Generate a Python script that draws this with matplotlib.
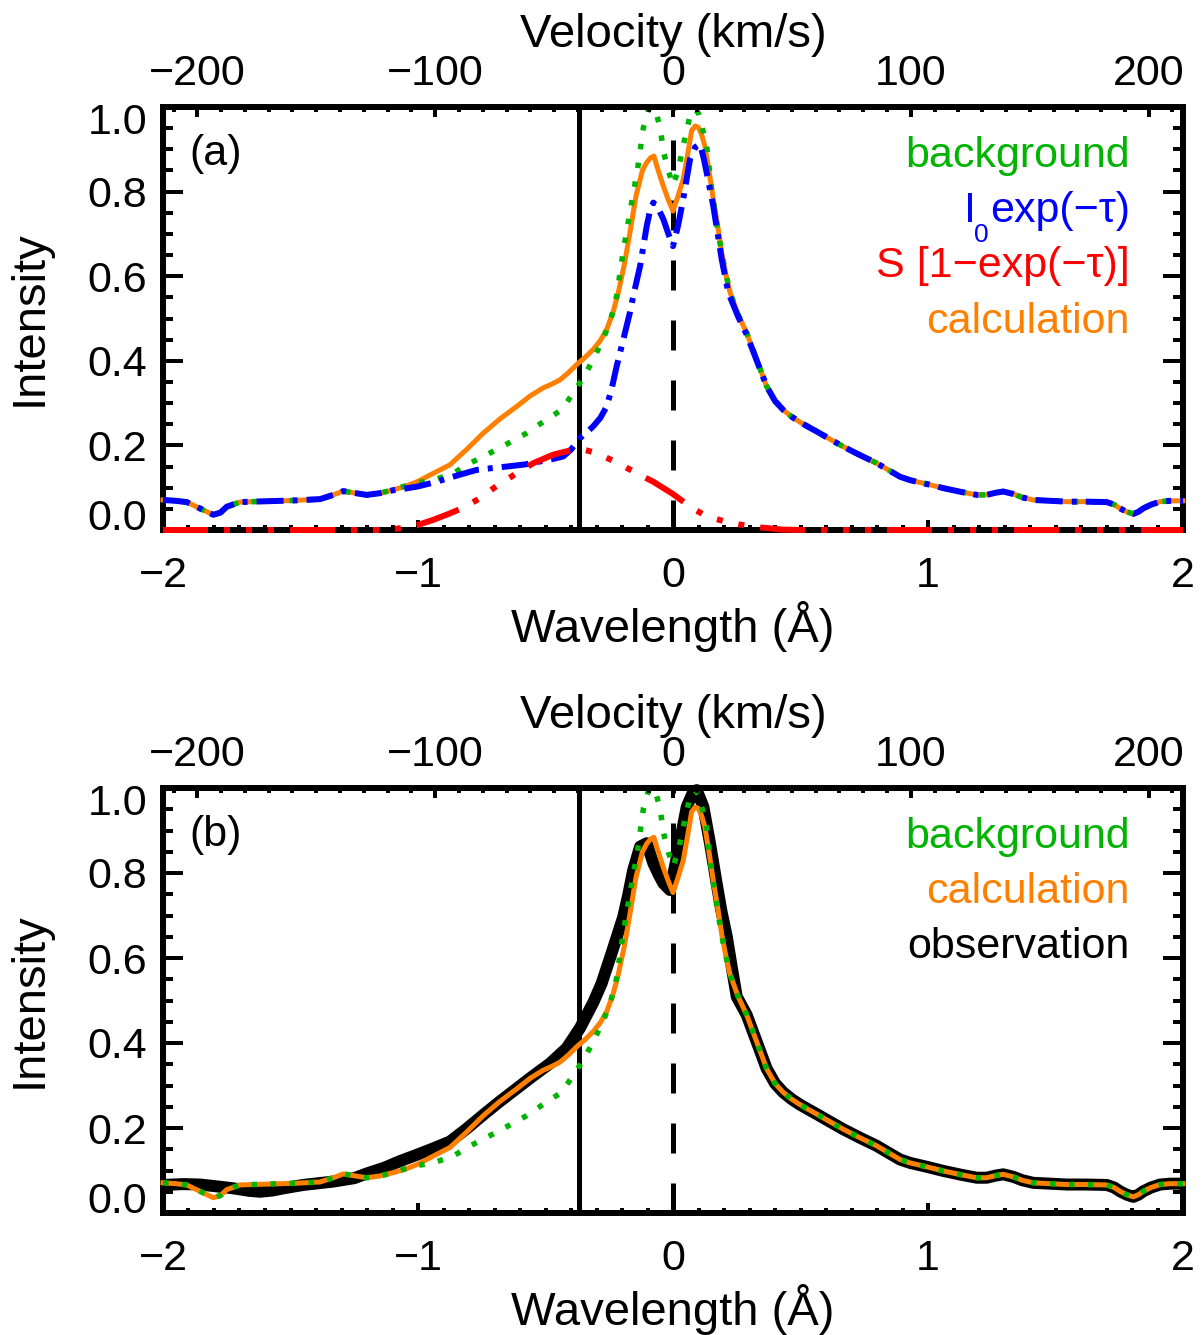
import numpy as np
import matplotlib
matplotlib.use('Agg')
import matplotlib.pyplot as plt
from matplotlib.ticker import MultipleLocator, FixedLocator
from matplotlib.transforms import ScaledTranslation

plt.rcParams['font.family'] = ['Liberation Sans', 'DejaVu Sans']
plt.rcParams['mathtext.fontset'] = 'custom'
plt.rcParams['mathtext.rm'] = 'Liberation Sans'
plt.rcParams['mathtext.it'] = 'Liberation Sans:italic'
plt.rcParams['mathtext.default'] = 'regular'
plt.rcParams['lines.scale_dashes'] = False
plt.rcParams['axes.unicode_minus'] = True

# ---------------- data ----------------
C_KMS = 299792.458
LAMBDA0 = 2796.35          # Mg II k rest wavelength (Angstrom)
LINE_SOLID = -0.37         # vertical solid line (Angstrom)
LINE_DASHED = 0.0          # vertical dashed line (Angstrom)

# calculation (orange)
lam_calc = [-2.00, -1.95, -1.907, -1.855, -1.803, -1.775, -1.750, -1.698, -1.593, -1.48,
            -1.384, -1.332, -1.293, -1.254, -1.201, -1.15, -1.097, -1.05, -1.00, -0.94,
            -0.875, -0.81, -0.744, -0.68, -0.613, -0.56, -0.509, -0.475, -0.443, -0.41,
            -0.378, -0.345, -0.313, -0.285, -0.260, -0.235, -0.215, -0.19, -0.169, -0.145,
            -0.12, -0.103, -0.088, -0.075, -0.058, -0.038, -0.018, 0.0, 0.02, 0.04,
            0.058, 0.073, 0.087, 0.099, 0.112, 0.125, 0.141, 0.158, 0.175, 0.191,
            0.207, 0.224, 0.255, 0.289, 0.33, 0.367, 0.40, 0.432, 0.465, 0.498,
            0.53, 0.563, 0.615, 0.668, 0.73, 0.799, 0.85, 0.890, 0.929, 1.00,
            1.060, 1.13, 1.191, 1.230, 1.265, 1.295, 1.335, 1.37, 1.413, 1.48,
            1.544, 1.62, 1.701, 1.73, 1.753, 1.78, 1.805, 1.825, 1.844, 1.875,
            1.910, 1.95, 2.0]
int_calc = [0.071, 0.069, 0.066, 0.051, 0.036, 0.041, 0.055, 0.066, 0.068, 0.070,
            0.073, 0.083, 0.092, 0.088, 0.083, 0.087, 0.095, 0.103, 0.115, 0.134,
            0.154, 0.190, 0.229, 0.262, 0.292, 0.317, 0.336, 0.345, 0.355, 0.372,
            0.391, 0.408, 0.427, 0.448, 0.474, 0.515, 0.560, 0.630, 0.703, 0.790,
            0.850, 0.869, 0.880, 0.884, 0.850, 0.813, 0.780, 0.754, 0.790, 0.829,
            0.890, 0.944, 0.955, 0.952, 0.935, 0.908, 0.850, 0.782, 0.720, 0.656,
            0.605, 0.561, 0.510, 0.466, 0.400, 0.340, 0.305, 0.284, 0.268, 0.255,
            0.244, 0.233, 0.215, 0.197, 0.178, 0.158, 0.140, 0.126, 0.118, 0.108,
            0.099, 0.090, 0.083, 0.083, 0.088, 0.091, 0.085, 0.077, 0.071, 0.069,
            0.067, 0.067, 0.066, 0.060, 0.051, 0.043, 0.038, 0.043, 0.051, 0.060,
            0.067, 0.069, 0.069]

# I0 exp(-tau) (blue)
lam_abs = [-2.00, -1.95, -1.907, -1.855, -1.803, -1.775, -1.750, -1.698, -1.593, -1.48,
           -1.384, -1.332, -1.293, -1.254, -1.201, -1.15, -1.097, -1.05, -1.00, -0.94,
           -0.862, -0.80, -0.77, -0.70, -0.652, -0.58, -0.522, -0.47, -0.43, -0.40,
           -0.365, -0.34, -0.313, -0.285, -0.26, -0.24, -0.221, -0.195, -0.169, -0.156,
           -0.129, -0.103, -0.09, -0.077, -0.058, -0.038, -0.018, 0.0, 0.02, 0.04,
           0.067, 0.087, 0.106, 0.12, 0.132, 0.158, 0.191, 0.217, 0.255, 0.289,
           0.33, 0.367, 0.40, 0.432, 0.465, 0.498, 0.53, 0.563, 0.615, 0.668,
           0.73, 0.799, 0.85, 0.890, 0.929, 1.00, 1.060, 1.13, 1.191, 1.230,
           1.265, 1.295, 1.335, 1.37, 1.413, 1.48, 1.544, 1.62, 1.701, 1.73,
           1.753, 1.78, 1.805, 1.825, 1.844, 1.875, 1.910, 1.95, 2.0]
int_abs = [0.071, 0.069, 0.066, 0.051, 0.036, 0.041, 0.055, 0.066, 0.068, 0.070,
           0.073, 0.083, 0.092, 0.088, 0.083, 0.087, 0.094, 0.098, 0.103, 0.112,
           0.126, 0.137, 0.142, 0.147, 0.150, 0.155, 0.162, 0.168, 0.174, 0.190,
           0.217, 0.230, 0.245, 0.265, 0.292, 0.335, 0.387, 0.450, 0.514, 0.553,
           0.624, 0.719, 0.755, 0.774, 0.760, 0.735, 0.700, 0.671, 0.720, 0.782,
           0.877, 0.905, 0.912, 0.880, 0.845, 0.766, 0.640, 0.561, 0.505, 0.462,
           0.398, 0.340, 0.305, 0.284, 0.268, 0.255, 0.244, 0.233, 0.215, 0.197,
           0.178, 0.158, 0.140, 0.126, 0.118, 0.108, 0.099, 0.090, 0.083, 0.083,
           0.088, 0.091, 0.085, 0.077, 0.071, 0.069, 0.067, 0.067, 0.066, 0.060,
           0.051, 0.043, 0.038, 0.043, 0.051, 0.060, 0.067, 0.069, 0.069]

# S [1 - exp(-tau)] (red)
lam_src = [-2.0, -1.5, -1.15, -1.10, -1.071, -1.00, -0.94, -0.88, -0.829, -0.757,
           -0.685, -0.613, -0.548, -0.47, -0.391, -0.35, -0.30, -0.215, -0.142, -0.077,
           0.0, 0.067, 0.132, 0.224, 0.308, 0.43, 0.5, 1.0, 1.5, 2.0]
int_src = [0.0, 0.0, 0.0, 0.002, 0.004, 0.012, 0.024, 0.038, 0.051, 0.075,
           0.107, 0.134, 0.158, 0.178, 0.190, 0.190, 0.182, 0.158, 0.134, 0.114,
           0.085, 0.055, 0.032, 0.017, 0.008, 0.001, 0.0, 0.0, 0.0, 0.0]

# background (green)
lam_bg = [-2.00, -1.95, -1.907, -1.855, -1.803, -1.775, -1.750, -1.698, -1.593, -1.48,
          -1.384, -1.332, -1.293, -1.254, -1.201, -1.15, -1.097, -1.05, -1.00, -0.94,
          -0.862, -0.789, -0.718, -0.646, -0.574, -0.506, -0.437, -0.391, -0.345, -0.306,
          -0.267, -0.241, -0.221, -0.197, -0.169, -0.140, -0.116, -0.096, -0.083, -0.07,
          -0.05, -0.038, -0.018, 0.0, 0.02, 0.04, 0.065, 0.086, 0.10, 0.112,
          0.132, 0.151, 0.175, 0.20, 0.224, 0.255, 0.289, 0.33, 0.367, 0.40,
          0.432, 0.465, 0.498, 0.53, 0.563, 0.615, 0.668, 0.73, 0.799, 0.85,
          0.890, 0.929, 1.00, 1.060, 1.13, 1.191, 1.230, 1.265, 1.295, 1.335,
          1.37, 1.413, 1.48, 1.544, 1.62, 1.701, 1.73, 1.753, 1.78, 1.805,
          1.825, 1.844, 1.875, 1.910, 1.95, 2.0]
int_bg = [0.071, 0.069, 0.066, 0.051, 0.036, 0.041, 0.055, 0.066, 0.068, 0.070,
          0.073, 0.083, 0.092, 0.088, 0.083, 0.087, 0.095, 0.104, 0.112, 0.118,
          0.134, 0.160, 0.182, 0.205, 0.229, 0.257, 0.284, 0.324, 0.367, 0.411,
          0.462, 0.505, 0.553, 0.652, 0.751, 0.849, 0.952, 0.995, 1.000, 0.995,
          0.950, 0.896, 0.849, 0.815, 0.850, 0.908, 0.975, 0.995, 0.985, 0.957,
          0.908, 0.806, 0.710, 0.625, 0.561, 0.510, 0.466, 0.400, 0.340, 0.305,
          0.284, 0.268, 0.255, 0.244, 0.233, 0.215, 0.197, 0.178, 0.158, 0.140,
          0.126, 0.118, 0.108, 0.099, 0.090, 0.083, 0.083, 0.088, 0.091, 0.085,
          0.077, 0.071, 0.069, 0.067, 0.067, 0.066, 0.060, 0.051, 0.043, 0.038,
          0.043, 0.051, 0.060, 0.067, 0.069, 0.069]

# observation (black)
lam_obs = [-2.0, -1.92, -1.855, -1.78, -1.724, -1.66, -1.62, -1.57, -1.528, -1.45,
           -1.332, -1.25, -1.201, -1.13, -1.071, -1.00, -0.94, -0.875, -0.81, -0.744,
           -0.68, -0.613, -0.55, -0.482, -0.417, -0.365, -0.313, -0.28, -0.247, -0.22,
           -0.195, -0.175, -0.156, -0.129, -0.103, -0.077, -0.055, -0.038, -0.012, 0.021,
           0.054, 0.075, 0.093, 0.119, 0.145, 0.171, 0.19, 0.211, 0.23, 0.25,
           0.289, 0.33, 0.367, 0.40, 0.432, 0.465, 0.498, 0.53, 0.563, 0.615,
           0.668, 0.73, 0.799, 0.85, 0.890, 0.929, 1.00, 1.060, 1.13, 1.191,
           1.230, 1.265, 1.295, 1.335, 1.37, 1.413, 1.48, 1.544, 1.62, 1.701,
           1.73, 1.753, 1.78, 1.805, 1.825, 1.844, 1.875, 1.910, 1.95, 2.0]
int_obs = [0.066, 0.068, 0.067, 0.062, 0.058, 0.052, 0.050, 0.053, 0.058, 0.066,
           0.074, 0.082, 0.093, 0.107, 0.122, 0.138, 0.152, 0.168, 0.198, 0.231,
           0.262, 0.293, 0.322, 0.352, 0.388, 0.435, 0.495, 0.540, 0.600, 0.650,
           0.697, 0.750, 0.807, 0.862, 0.870, 0.823, 0.795, 0.776, 0.760, 0.854,
           0.956, 0.985, 0.995, 0.956, 0.870, 0.776, 0.710, 0.650, 0.580, 0.509,
           0.466, 0.400, 0.340, 0.305, 0.284, 0.268, 0.255, 0.244, 0.233, 0.215,
           0.197, 0.178, 0.158, 0.140, 0.126, 0.118, 0.108, 0.099, 0.090, 0.083,
           0.083, 0.088, 0.091, 0.085, 0.077, 0.071, 0.069, 0.067, 0.067, 0.066,
           0.060, 0.051, 0.043, 0.038, 0.043, 0.051, 0.060, 0.067, 0.069, 0.069]

xticks_wl = [-2, -1, 0, 1, 2]
xticks_vel = [-200, -100, 0, 100, 200]
yticks_int = [0.0, 0.2, 0.4, 0.6, 0.8, 1.0]

GREEN = '#00B400'
BLUE = '#0000FF'
RED = '#FF0000'
ORANGE = '#FF8000'

# ---------------- styling ----------------
DPI = 100
PX = 72.0 / DPI           # points per pixel
fig = plt.figure(figsize=(12.03, 13.35), dpi=DPI)

L, W = 163 / 1203, 1020 / 1203
ax_a = fig.add_axes([L, 1 - 530 / 1335, W, 423 / 1335])
ax_b = fig.add_axes([L, 1 - 1213 / 1335, W, 425 / 1335])

FS_TICK = 31
FS_LAB = 34
FS_SUB = 19

green_dots = (0, (5.5 * PX, 13.5 * PX))
blue_dashdot = (0, (27 * PX, 9 * PX, 5 * PX, 9 * PX))
red_dash3dot = (0, (45 * PX, 16 * PX, 6 * PX, 16 * PX, 6 * PX, 16 * PX, 6 * PX, 16 * PX))


def fmt_int(v):
    return ('\u2212%d' % -v) if v < 0 else '%d' % v


def style_axes(ax, tag):
    ax.set_xlim(-2, 2)
    ax.set_ylim(0, 1)
    ax.xaxis.set_major_locator(FixedLocator(xticks_wl))
    ax.xaxis.set_minor_locator(MultipleLocator(0.1))
    ax.yaxis.set_major_locator(FixedLocator(yticks_int))
    ax.yaxis.set_minor_locator(MultipleLocator(0.05))
    ax.set_yticklabels(['%.1f' % v for v in yticks_int])
    ax.set_xticklabels([fmt_int(v) for v in xticks_wl])
    for s in ax.spines.values():
        s.set_linewidth(6 * PX)
    ax.tick_params(axis='x', which='major', direction='in', length=10 * PX, width=4 * PX,
                   top=False, bottom=True, labelsize=FS_TICK, pad=19)
    ax.tick_params(axis='x', which='minor', direction='in', length=5 * PX, width=4 * PX,
                   top=False, bottom=True)
    ax.tick_params(axis='y', which='major', direction='in', length=20 * PX, width=4 * PX,
                   left=True, right=True, labelsize=FS_TICK, pad=11.5)
    ax.tick_params(axis='y', which='minor', direction='in', length=10 * PX, width=4 * PX,
                   left=True, right=True)
    ax.set_xlabel('Wavelength (\u00c5)', fontsize=FS_LAB, labelpad=3)
    ax.set_ylabel('Intensity', fontsize=FS_LAB, labelpad=26)

    axv = ax.twiny()
    axv.set_xlim(-2 * C_KMS / LAMBDA0, 2 * C_KMS / LAMBDA0)
    axv.xaxis.set_major_locator(FixedLocator(xticks_vel))
    axv.xaxis.set_minor_locator(MultipleLocator(10))
    axv.set_xticklabels([fmt_int(v) for v in xticks_vel])
    for name, s in axv.spines.items():
        s.set_linewidth(6 * PX)
        if name != 'top':
            s.set_visible(False)
    axv.tick_params(axis='x', which='major', direction='in', length=10 * PX, width=4 * PX,
                    labelsize=FS_TICK, pad=9.5)
    axv.tick_params(axis='x', which='minor', direction='in', length=5 * PX, width=4 * PX)
    axv.set_xlabel('Velocity (km/s)', fontsize=FS_LAB, labelpad=5)

    ax.text(0.026, 0.89, tag, transform=ax.transAxes, fontsize=FS_TICK,
            ha='left', va='center')

    # vertical reference lines
    ax.axvline(LINE_SOLID, color='black', lw=5 * PX, zorder=2)
    ax.axvline(LINE_DASHED, color='black', lw=5 * PX, zorder=2,
               linestyle=(0, (30 * PX, 30 * PX)))

    # nudge edge tick labels like the original
    ticks = ax.yaxis.get_major_ticks()
    ticks[0].label1.set_verticalalignment('baseline')
    top_lab = ticks[-1].label1
    top_lab.set_verticalalignment('top')
    top_lab.set_transform(top_lab.get_transform() +
                          ScaledTranslation(0, 4 / DPI, fig.dpi_scale_trans))


style_axes(ax_a, '(a)')
style_axes(ax_b, '(b)')

# ---------------- panel (a) ----------------
ax_a.plot(lam_calc, int_calc, color=ORANGE, lw=5 * PX, zorder=3, clip_on=False,
          solid_joinstyle='round')
ax_a.plot(lam_bg, int_bg, color=GREEN, lw=5.5 * PX, zorder=4, clip_on=False,
          linestyle=green_dots, dash_capstyle='butt')
ax_a.plot(lam_abs, int_abs, color=BLUE, lw=6 * PX, zorder=5, clip_on=False,
          linestyle=blue_dashdot, dash_capstyle='butt')
ax_a.plot(lam_src, int_src, color=RED, lw=6 * PX, zorder=6, clip_on=False,
          linestyle=red_dash3dot, dash_capstyle='butt')

xt = 0.948
ax_a.text(xt, 0.858, 'background', color=GREEN, fontsize=FS_TICK, ha='right',
          va='baseline', transform=ax_a.transAxes)
t_exp = ax_a.text(xt, 0.728, 'exp(\u2212\u03c4)', color=BLUE, fontsize=FS_TICK,
                  ha='right', va='baseline', transform=ax_a.transAxes)
t_sub = ax_a.annotate('0', xy=(0, 0), xycoords=t_exp, xytext=(-1, 8 * PX),
                      textcoords='offset points', color=BLUE, fontsize=FS_SUB,
                      ha='right', va='top')
ax_a.annotate('I', xy=(0, 0), xycoords=(t_sub, t_exp), xytext=(2 * PX, 0),
              textcoords='offset points', color=BLUE, fontsize=FS_TICK,
              ha='right', va='bottom')
ax_a.text(xt, 0.598, 'S [1\u2212exp(\u2212\u03c4)]', color=RED, fontsize=FS_TICK, ha='right',
          va='baseline', transform=ax_a.transAxes)
ax_a.text(xt, 0.466, 'calculation', color=ORANGE, fontsize=FS_TICK, ha='right',
          va='baseline', transform=ax_a.transAxes)

# ---------------- panel (b) ----------------
ax_b.plot(lam_obs, int_obs, color='black', lw=12 * PX, zorder=3, clip_on=False,
          solid_joinstyle='round', solid_capstyle='butt')
ax_b.plot(lam_calc, int_calc, color=ORANGE, lw=5 * PX, zorder=4, clip_on=False,
          solid_joinstyle='round')
ax_b.plot(lam_bg, int_bg, color=GREEN, lw=5.5 * PX, zorder=5, clip_on=False,
          linestyle=green_dots, dash_capstyle='butt')

ax_b.text(xt, 0.859, 'background', color=GREEN, fontsize=FS_TICK, ha='right',
          va='baseline', transform=ax_b.transAxes)
ax_b.text(xt, 0.729, 'calculation', color=ORANGE, fontsize=FS_TICK, ha='right',
          va='baseline', transform=ax_b.transAxes)
ax_b.text(xt, 0.600, 'observation', color='black', fontsize=FS_TICK, ha='right',
          va='baseline', transform=ax_b.transAxes)

fig.savefig('out.png', dpi=DPI)
